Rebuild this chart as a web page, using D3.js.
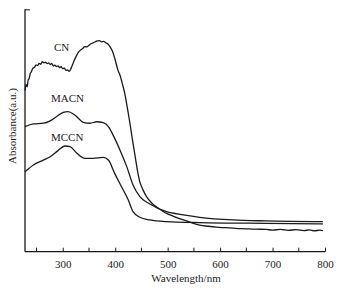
<!DOCTYPE html>
<html><head><meta charset="utf-8">
<script src="https://cdn.jsdelivr.net/npm/d3@7/dist/d3.min.js"></script>
<style>body{margin:0;background:#fff}svg{display:block}</style>
</head><body>
<script>
// Wavelength (nm) and absorbance (a.u.)
const cnWl = [228,230,232,234,236,238,240,243,246,249,252,255,258,261,264,267,270,273,276,279,282,285,288,291,294,297,300,303,306,309,312,315,318,322,326,330,334,338,342,346,350,354,358,362,366,370,374,378,382,386,390,395,400,405,409,414,418,423,428,433,437,442,447,453,460,470,479,490,498,510,530,545,561,577,593,610,625,640,655,670,688,700,715,730,745,760,770,780,790,796];
const cnAbs = [0.665,0.690,0.680,0.708,0.715,0.735,0.742,0.757,0.760,0.771,0.768,0.777,0.773,0.784,0.779,0.782,0.776,0.779,0.772,0.777,0.766,0.770,0.764,0.766,0.760,0.763,0.755,0.757,0.748,0.750,0.744,0.752,0.768,0.790,0.808,0.823,0.832,0.838,0.846,0.845,0.852,0.858,0.862,0.866,0.870,0.871,0.866,0.868,0.862,0.857,0.846,0.826,0.791,0.750,0.729,0.690,0.655,0.595,0.531,0.460,0.407,0.340,0.288,0.255,0.226,0.200,0.184,0.168,0.158,0.147,0.131,0.120,0.110,0.105,0.101,0.099,0.097,0.095,0.094,0.093,0.092,0.089,0.092,0.088,0.091,0.087,0.090,0.086,0.089,0.087];

const macnWl = [228,244,263,276,288,301,310,323,339,352,365,377,387,396,409,422,434,447,466,498,530,561,625,688,796];
const macnAbs = [0.516,0.527,0.530,0.540,0.557,0.575,0.578,0.564,0.534,0.530,0.536,0.532,0.516,0.481,0.420,0.351,0.275,0.227,0.197,0.165,0.152,0.142,0.131,0.127,0.124];

const mccnWl = [228,244,263,276,291,304,314,327,342,358,377,387,399,412,425,434,447,466,498,561,688,796];
const mccnAbs = [0.330,0.358,0.378,0.392,0.417,0.436,0.433,0.406,0.385,0.385,0.389,0.378,0.323,0.268,0.213,0.165,0.142,0.131,0.124,0.120,0.117,0.115];

const seriesNames = ["CN","MACN","MCCN"];
const xTicks = [300,400,500,600,700,800];
const xMinor = [250,350,450,550,650,750];

const W = 345, H = 294;
const svg = d3.select("body").append("svg").attr("width", W).attr("height", H);
const x = d3.scaleLinear().domain([228, 800]).range([25, 325]);
const y = d3.scaleLinear().domain([0, 1]).range([251.7, 9.3]);
const ink = "#1a1a1a";
const font = "'Liberation Serif','Times New Roman',serif";

// axes
const xAxis = d3.axisBottom(x).tickValues(xTicks).tickSize(-4).tickPadding(9).tickFormat(d3.format("d"));
const gx = svg.append("g").attr("transform", `translate(0,${y(0)})`).call(xAxis);
gx.select(".domain").attr("d", `M${x(228)},0H${x(800)}`).attr("stroke", ink).attr("stroke-width", 1.3);
gx.selectAll(".tick line").attr("stroke", ink).attr("stroke-width", 1);
gx.selectAll(".tick text").attr("fill", ink).style("font-family", font).style("font-size", "11px");
gx.selectAll(".minor").data(xMinor).enter().append("line")
  .attr("x1", d => x(d)).attr("x2", d => x(d)).attr("y1", 0).attr("y2", -4)
  .attr("stroke", ink).attr("stroke-width", 1);

const yAxis = d3.axisLeft(y).tickValues([1]).tickSize(-5).tickFormat("");
const gy = svg.append("g").attr("transform", `translate(${x(228)},0)`).call(yAxis);
gy.select(".domain").attr("d", `M0,${y(1)}V${y(0)}`).attr("stroke", ink).attr("stroke-width", 1.3);
gy.selectAll(".tick line").attr("stroke", ink).attr("stroke-width", 1);

// lines
const line = d3.line().x(d => x(d[0])).y(d => y(d[1])).curve(d3.curveMonotoneX);
const data = [
  d3.zip(cnWl, cnAbs),
  d3.zip(macnWl, macnAbs),
  d3.zip(mccnWl, mccnAbs)
];
svg.selectAll(".series").data(data).enter().append("path")
  .attr("d", line).attr("fill", "none").attr("stroke", ink).attr("stroke-width", 1.3);

// series labels
const labelPos = [[54, 51], [51, 102], [51, 141]];
svg.selectAll(".lbl").data(seriesNames).enter().append("text")
  .attr("x", (d, i) => labelPos[i][0]).attr("y", (d, i) => labelPos[i][1])
  .attr("fill", ink).style("font-family", font).style("font-size", "11px").text(d => d);

// axis titles
svg.append("text").attr("x", 186).attr("y", 282).attr("text-anchor", "middle")
  .attr("fill", ink).style("font-family", font).style("font-size", "11px").text("Wavelength/nm");
svg.append("text").attr("transform", "translate(15.5,126) rotate(-90)").attr("text-anchor", "middle")
  .attr("fill", ink).style("font-family", font).style("font-size", "11px").text("Absorbance(a.u.)");
</script>
</body></html>
